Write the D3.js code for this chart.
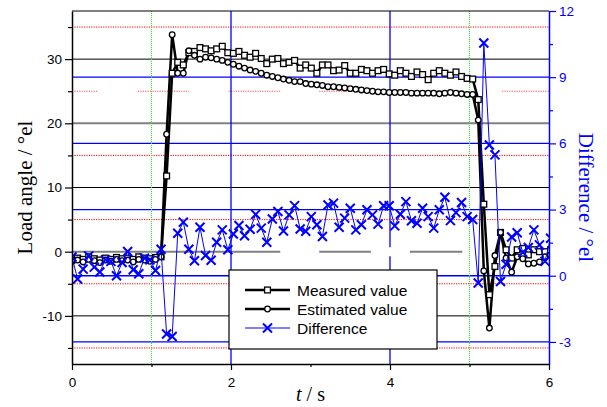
<!DOCTYPE html>
<html><head><meta charset="utf-8">
<script src="https://cdn.jsdelivr.net/npm/d3@7"></script>
<style>body{margin:0;background:#fff} svg{display:block}</style>
</head><body><svg id="c" width="607" height="407"></svg>
<script>
// ---------- data ----------
const time = [0,0.07,0.14,0.21,0.28,0.35,0.42,0.49,0.56,0.63,0.70,0.77,0.84,0.91,0.98,1.05,1.12,1.19,1.26,1.33,
  1.40,1.47,1.54,1.61,1.68,1.75,1.82,1.89,1.96,2.03,2.10,2.17,2.24,2.31,2.38,2.45,2.52,2.59,2.66,2.73,
  2.80,2.87,2.94,3.01,3.08,3.15,3.22,3.29,3.36,3.43,3.50,3.57,3.64,3.71,3.78,3.85,3.92,3.99,4.06,4.13,
  4.20,4.27,4.34,4.41,4.48,4.55,4.62,4.69,4.76,4.83,4.90,4.97,5.04,5.11,5.18,5.25,5.32,5.39,5.46,5.53,
  5.60,5.67,5.74,5.81,5.88,5.95,6.02];
const measured = [-1.3,-1.0,-1.2,-0.8,-1.1,-1.3,-1.0,-1.2,-0.9,-1.1,-1.0,-1.2,-0.8,-1.0,-1.1,-0.9,-0.8,11.8,27.8,29.5,
  29.1,31.0,31.2,31.8,31.6,31.3,31.6,32.0,31.0,30.9,31.2,30.6,30.3,30.9,30.1,29.3,30.0,30.1,29.3,29.5,
  29.8,28.6,29.1,28.6,27.8,29.1,29.1,28.2,28.3,29.0,27.8,27.8,28.4,28.2,27.8,28.2,28.4,27.7,27.5,28.2,
  27.8,27.3,28.0,27.6,26.8,27.8,28.2,27.8,27.5,28.0,27.3,27.0,26.9,23.7,7.4,-6.7,-2.3,3.0,0.3,-1.0,
  0.3,0.5,-0.5,0.3,0.0,0.0,0.3];
const estimated = [-1.5,-1.3,-1.6,-1.2,-1.4,-1.7,-1.3,-1.5,-1.2,-1.4,-1.3,-1.6,-1.2,-1.3,-1.5,-1.2,-0.8,18.3,33.8,27.8,
  27.8,31.3,30.6,30.0,30.3,30.2,30.0,29.8,29.5,29.2,28.9,28.6,28.3,28.1,27.8,27.5,27.3,27.1,26.9,26.7,
  26.5,26.5,26.2,26.1,26.0,25.9,25.7,25.7,25.6,25.5,25.4,25.3,25.2,25.1,25.0,24.9,24.9,24.8,24.8,24.8,
  24.8,24.7,24.7,24.7,24.7,24.7,24.6,24.7,24.8,24.7,24.6,24.5,24.5,20.5,-3.0,-11.9,-0.6,3.0,-1.0,-3.2,
  -0.8,-1.1,-1.9,-1.8,-1.6,-0.8,-0.5];
const difference = [0.85,-0.15,0.3,0.9,0.39,0.17,0.72,0.65,0.0,0.6,1.1,0.27,0.09,0.8,0.72,0.24,1.2,-2.64,-2.75,1.93,
  2.43,1.2,0.68,2.2,0.92,0.7,1.52,2.08,1.18,1.89,2.28,1.81,2.11,2.78,2.16,1.52,2.57,2.91,2.03,2.76,
  3.18,2.12,2.02,2.68,2.31,1.78,3.21,3.29,2.2,2.61,3.06,2.08,2.31,2.99,2.76,2.34,3.17,3.17,2.26,2.79,
  3.36,2.49,2.38,3.06,2.68,2.16,2.99,3.56,2.5,2.86,3.32,2.68,2.55,-0.33,10.55,5.93,5.48,-0.26,0.52,1.76,
  1.95,1.06,1.28,2.08,1.4,0.65,1.7];

const seriesNames = ["Measured value", "Estimated value", "Difference"];
const xTicks = [0, 2, 4, 6];
const xMinorTicks = [1, 3, 5];
const leftTicks = [-10, 0, 10, 20, 30];
const leftMinorTicks = [-15, -5, 5, 15, 25, 35];
const rightTicks = [-3, 0, 3, 6, 9, 12];
const rightMinorTicks = [-1.5, 1.5, 4.5, 7.5, 10.5];

// reference lines (in data units)
const blackLevels = [30, 10, -10];
const grayFullLevels = [20];
const grayZeroSegments = [[0, 2.62], [3.11, 3.76], [4.25, 4.91]];
const blueLevels = [9, 6, 3, 0, -3];
const redLevels = [35, 15, 5, -5, -15];
const red25Segments = [[0, 0.32], [0.83, 1.47], [1.97, 2.62], [3.11, 3.76], [4.25, 4.91], [5.41, 6]];
const greenVerticals = [1, 5];
const blueVerticalSolid = [2];
const blueVertical4Segments = [[37.5, 0.7], [-0.7, -17.5]];

// ---------- chart ----------
const svg = d3.select("#c");
const L = 72, R = 549, T = 11, B = 364;
const x = d3.scaleLinear().domain([0, 6]).range([L, R]);
const yL = d3.scaleLinear().domain([-17.5, 37.5]).range([B, T]);
const yR = d3.scaleLinear().domain([-4, 12]).range([B, T]);
const BLUE = "#0000ff";

svg.append("defs").append("clipPath").attr("id", "clip")
  .append("rect").attr("x", L).attr("y", T).attr("width", R - L).attr("height", B - T);

const grid = svg.append("g");
grid.selectAll(".red").data(redLevels).join("line")
  .attr("x1", L).attr("x2", R).attr("y1", d => yL(d)).attr("y2", d => yL(d))
  .attr("stroke", "#ff0000").attr("stroke-width", 1).attr("stroke-dasharray", "1.2,1.2");
grid.selectAll(".red25").data(red25Segments).join("line")
  .attr("x1", d => x(d[0])).attr("x2", d => x(d[1])).attr("y1", yL(25)).attr("y2", yL(25))
  .attr("stroke", "#ff5050").attr("stroke-width", 1).attr("stroke-dasharray", "1.2,1.2");
grid.selectAll(".blk").data(blackLevels).join("line")
  .attr("x1", L).attr("x2", R).attr("y1", d => yL(d)).attr("y2", d => yL(d))
  .attr("stroke", "#000").attr("stroke-width", 1);
grid.selectAll(".gry").data(grayFullLevels).join("line")
  .attr("x1", L).attr("x2", R).attr("y1", d => yL(d)).attr("y2", d => yL(d))
  .attr("stroke", "#808080").attr("stroke-width", 2);
grid.selectAll(".gry0").data(grayZeroSegments).join("line")
  .attr("x1", d => x(d[0])).attr("x2", d => x(d[1])).attr("y1", yL(0)).attr("y2", yL(0))
  .attr("stroke", "#808080").attr("stroke-width", 2);
grid.selectAll(".blu").data(blueLevels).join("line")
  .attr("x1", L).attr("x2", R).attr("y1", d => yR(d)).attr("y2", d => yR(d))
  .attr("stroke", BLUE).attr("stroke-width", 1.3);
grid.selectAll(".grn").data(greenVerticals).join("line")
  .attr("x1", d => x(d)).attr("x2", d => x(d)).attr("y1", T).attr("y2", B)
  .attr("stroke", "#22ee22").attr("stroke-width", 1).attr("stroke-dasharray", "1,1");
grid.selectAll(".bv").data(blueVerticalSolid).join("line")
  .attr("x1", d => x(d)).attr("x2", d => x(d)).attr("y1", T).attr("y2", B)
  .attr("stroke", BLUE).attr("stroke-width", 1.3);
grid.selectAll(".bv4").data(blueVertical4Segments).join("line")
  .attr("x1", x(4)).attr("x2", x(4)).attr("y1", d => yL(d[0])).attr("y2", d => yL(d[1]))
  .attr("stroke", BLUE).attr("stroke-width", 1.3);

// ---------- series ----------
const plot = svg.append("g").attr("clip-path", "url(#clip)");
const idx = d3.range(time.length);
const lineL = arr => d3.line().x(i => x(time[i])).y(i => yL(arr[i]));
const lineR = arr => d3.line().x(i => x(time[i])).y(i => yR(arr[i]));

plot.append("path").attr("d", lineL(measured)(idx)).attr("fill", "none")
  .attr("stroke", "#000").attr("stroke-width", 2.5).attr("stroke-linejoin", "round");
plot.append("path").attr("d", lineL(estimated)(idx)).attr("fill", "none")
  .attr("stroke", "#000").attr("stroke-width", 2.5).attr("stroke-linejoin", "round");

const sq = 5.8;
plot.selectAll(".sq").data(idx).join("rect")
  .attr("x", i => x(time[i]) - sq / 2).attr("y", i => yL(measured[i]) - sq / 2)
  .attr("width", sq).attr("height", sq)
  .attr("fill", "#fff").attr("stroke", "#000").attr("stroke-width", 1.3);
plot.selectAll(".ci").data(idx).join("circle")
  .attr("cx", i => x(time[i])).attr("cy", i => yL(estimated[i])).attr("r", 2.8)
  .attr("fill", "#fff").attr("stroke", "#000").attr("stroke-width", 1.3);

plot.append("path").attr("d", lineR(difference)(idx)).attr("fill", "none")
  .attr("stroke", BLUE).attr("stroke-width", 1);
const xs = 4.5;
const crossPath = (cx, cy) => `M${cx - xs},${cy - xs}L${cx + xs},${cy + xs}M${cx - xs},${cy + xs}L${cx + xs},${cy - xs}`;
plot.selectAll(".xx").data(idx).join("path")
  .attr("d", i => crossPath(x(time[i]), yR(difference[i])))
  .attr("stroke", BLUE).attr("stroke-width", 2).attr("fill", "none");

// ---------- axes ----------
const font = "'Liberation Sans', Arial, sans-serif";
const serif = "'Liberation Serif', 'Times New Roman', serif";

svg.append("line").attr("x1", L).attr("x2", R).attr("y1", T).attr("y2", T).attr("stroke", "#000").attr("stroke-width", 1.2);

function styleAxis(g, color) {
  g.select(".domain").attr("stroke", color).attr("stroke-width", 1.5);
  g.selectAll(".tick line").attr("stroke", color).attr("stroke-width", 1.2);
  g.selectAll(".tick text").attr("fill", color).style("font-family", font).style("font-size", "13.5px");
}

const gx = svg.append("g").attr("transform", `translate(0,${B})`)
  .call(d3.axisBottom(x).tickValues(xTicks).tickFormat(d3.format("d")).tickSizeOuter(0).tickSizeInner(6).tickPadding(7));
styleAxis(gx, "#000");
const gxm = svg.append("g").attr("transform", `translate(0,${B})`)
  .call(d3.axisBottom(x).tickValues(xMinorTicks).tickFormat("").tickSizeOuter(0).tickSizeInner(3));
styleAxis(gxm, "#000"); gxm.select(".domain").remove();

const fmt = d => d < 0 ? "-" + Math.abs(d) : String(d);
const gl = svg.append("g").attr("transform", `translate(${L},0)`)
  .call(d3.axisLeft(yL).tickValues(leftTicks).tickFormat(fmt).tickSizeOuter(0).tickSizeInner(7).tickPadding(3));
styleAxis(gl, "#000");
const glm = svg.append("g").attr("transform", `translate(${L},0)`)
  .call(d3.axisLeft(yL).tickValues(leftMinorTicks).tickFormat("").tickSizeOuter(0).tickSizeInner(4));
styleAxis(glm, "#000"); glm.select(".domain").remove();

const gr = svg.append("g").attr("transform", `translate(${R},0)`)
  .call(d3.axisRight(yR).tickValues(rightTicks).tickFormat(fmt).tickSizeOuter(0).tickSizeInner(7).tickPadding(3));
styleAxis(gr, BLUE);
const grm = svg.append("g").attr("transform", `translate(${R},0)`)
  .call(d3.axisRight(yR).tickValues(rightMinorTicks).tickFormat("").tickSizeOuter(0).tickSizeInner(4));
styleAxis(grm, BLUE); grm.select(".domain").remove();

// titles
const xt = svg.append("text").attr("x", (L + R) / 2).attr("y", 401).attr("text-anchor", "middle")
  .style("font-family", serif).style("font-size", "20px").attr("fill", "#000");
xt.append("tspan").style("font-style", "italic").text("t");
xt.append("tspan").text(" / s");

svg.append("text").attr("transform", `translate(32,${(T + B) / 2}) rotate(-90)`).attr("text-anchor", "middle")
  .style("font-family", serif).style("font-size", "21px").attr("fill", "#000").text("Load angle / °el");
svg.append("text").attr("transform", `translate(579,${(T + B) / 2 + 10}) rotate(90)`).attr("text-anchor", "middle")
  .style("font-family", serif).style("font-size", "21px").attr("fill", BLUE).text("Difference / °el");

// ---------- legend ----------
const lg = svg.append("g");
lg.append("rect").attr("x", 229).attr("y", 270).attr("width", 208).attr("height", 79)
  .attr("fill", "#fff").attr("stroke", "#000").attr("stroke-width", 1.2);
const rows = [290, 309, 328];
seriesNames.forEach((name, k) => {
  const y0 = rows[k];
  const col = k === 2 ? BLUE : "#000";
  lg.append("line").attr("x1", 245).attr("x2", 290).attr("y1", y0).attr("y2", y0)
    .attr("stroke", col).attr("stroke-width", k === 2 ? 1 : 2.5);
  if (k === 0) lg.append("rect").attr("x", 267.5 - sq / 2).attr("y", y0 - sq / 2).attr("width", sq).attr("height", sq)
    .attr("fill", "#fff").attr("stroke", "#000").attr("stroke-width", 1.3);
  if (k === 1) lg.append("circle").attr("cx", 267.5).attr("cy", y0).attr("r", 2.8)
    .attr("fill", "#fff").attr("stroke", "#000").attr("stroke-width", 1.3);
  if (k === 2) lg.append("path").attr("d", crossPath(267.5, y0)).attr("stroke", BLUE).attr("stroke-width", 2);
  lg.append("text").attr("x", 297).attr("y", y0 + 5.5).style("font-family", font).style("font-size", "15.5px")
    .attr("fill", "#000").text(name);
});
</script></body></html>
